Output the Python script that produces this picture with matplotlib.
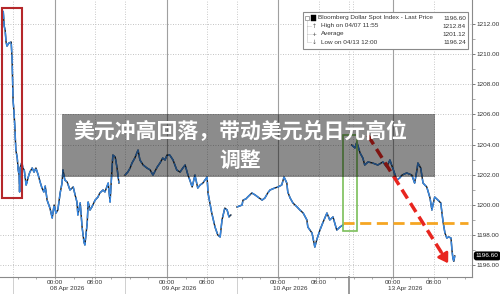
import numpy as np
import matplotlib.pyplot as plt
from matplotlib.patches import Rectangle

# x = trading hours counted from 08 Apr 2026 00:00 (weekend removed)
seg1_h = [-11.4, -11.1, -10.9, -10.7, -10.5, -10.3, -9.9, -9.4, -9.2, -9.1,
          -9.0, -8.9, -8.8, -8.6, -8.5, -8.4, -8.1, -7.9, -7.7, -7.6,
          -7.5, -7.3, -7.1, -6.9, -6.6, -6.2, -6.0, -5.8, -5.4, -4.9,
          -4.5, -4.1, -3.6, -3.2, -2.8, -2.4, -2.1, -1.7, -1.1, -0.6,
          -0.2, 0.2, 0.6, 1.1, 1.5, 1.7, 2.1, 2.6, 3.2, 3.9,
          4.3, 4.7, 4.9, 5.4, 5.8, 6.2, 6.4, 6.9, 7.1, 7.5,
          7.9, 8.6, 9.2, 9.6, 10.3, 10.7, 11.1, 11.4, 11.8, 12.2,
          12.4, 12.9, 13.3, 13.7]
seg1_v = [1212.80, 1212.84, 1211.87, 1211.60, 1210.81, 1210.54, 1210.74, 1210.81, 1209.61, 1208.28,
          1206.95, 1206.56, 1206.16, 1205.09, 1204.30, 1203.63, 1203.10, 1202.31, 1201.97, 1200.85,
          1202.44, 1202.64, 1202.84, 1202.44, 1202.31, 1201.31, 1201.51, 1201.78, 1202.17, 1202.44,
          1202.17, 1202.44, 1201.97, 1201.51, 1201.11, 1200.85, 1201.24, 1200.31, 1199.78, 1199.12,
          1199.98, 1199.45, 1199.65, 1200.78, 1201.44, 1202.31, 1201.64, 1201.51, 1200.98, 1201.18,
          1200.65, 1200.18, 1199.32, 1200.12, 1198.52, 1197.53, 1197.33, 1198.79, 1200.18, 1199.65,
          1199.85, 1200.31, 1200.51, 1200.78, 1200.98, 1200.85, 1201.18, 1201.44, 1200.18, 1202.31,
          1203.30, 1203.17, 1202.44, 1201.44]

seg2_h = [15.0, 15.6, 16.1, 16.5, 17.1, 17.8, 18.2, 18.9, 19.7, 20.4,
          21.0, 21.9, 22.5, 23.1, 23.6, 24.0, 24.6, 25.3, 26.1, 26.8,
          27.4, 27.9, 28.5, 28.9, 29.4, 30.0, 30.6, 31.1, 31.7, 32.6,
          32.8, 33.6, 34.3, 34.9, 35.4, 35.8, 36.4, 36.9, 37.3, 37.7]
seg2_v = [1201.97, 1202.17, 1202.44, 1202.77, 1203.10, 1203.63, 1202.97, 1202.64, 1202.44, 1202.31,
          1201.97, 1202.50, 1202.77, 1203.10, 1202.97, 1203.30, 1203.30, 1202.97, 1202.31, 1202.17,
          1202.44, 1202.64, 1201.97, 1201.64, 1201.18, 1201.97, 1201.11, 1201.31, 1201.44, 1201.84,
          1200.78, 1199.45, 1198.52, 1197.99, 1197.86, 1198.99, 1199.78, 1199.65, 1199.19, 1199.32]

seg3_h = [39.0, 39.6, 40.1, 40.3, 40.9, 41.3, 42.2, 42.9, 43.5, 44.4,
          45.0, 45.6, 46.1, 47.1, 47.8, 48.6, 49.1, 49.7, 49.9, 50.4,
          51.0, 51.9, 52.5, 53.2, 54.0, 54.2, 55.1, 55.7, 56.1, 56.8,
          57.4, 58.3, 58.9, 59.6, 60.4, 61.1, 61.7]
seg3_v = [1199.85, 1199.92, 1199.98, 1200.31, 1200.38, 1200.51, 1200.78, 1200.65, 1200.51, 1200.31,
          1200.45, 1200.78, 1200.98, 1201.11, 1201.18, 1201.31, 1201.84, 1201.44, 1200.85, 1200.45,
          1200.12, 1199.85, 1199.65, 1199.45, 1198.99, 1198.52, 1198.12, 1197.19, 1197.66, 1198.32,
          1198.79, 1199.45, 1198.99, 1199.19, 1198.32, 1198.52, 1198.65]

seg4_h = [63.6, 64.3, 64.7, 65.4, 66.0, 66.4, 67.1, 68.1, 69.2, 70.3,
          71.1, 71.8, 72.4, 73.3, 73.9, 74.4, 75.4, 76.5, 77.1, 77.6,
          77.8, 78.4, 78.9, 79.7, 80.4, 80.8, 81.4, 82.1, 82.7, 83.2,
          83.6, 84.0, 84.4, 84.9, 85.1, 85.3, 85.5, 85.7]
seg4_v = [1203.97, 1203.77, 1204.17, 1203.44, 1203.10, 1202.64, 1202.84, 1202.77, 1202.64, 1202.84,
          1202.51, 1202.97, 1202.44, 1201.64, 1201.78, 1201.97, 1202.11, 1201.97, 1201.44, 1202.31,
          1202.77, 1202.44, 1201.44, 1201.18, 1200.45, 1199.65, 1200.51, 1200.31, 1200.12, 1198.85,
          1198.12, 1197.79, 1197.86, 1197.79, 1196.99, 1196.46, 1196.24, 1196.60]

day_lines = [0.0, 24.0, 47.8, 72.4]
day_labels = ["08 Apr 2026", "09 Apr 2026", "10 Apr 2026", "13 Apr 2026"]
eight_lines = [8.6, 32.6, 56.6, 81.2]
session_lines = [-9.0, 15.0, 39.0, 63.0]
reopen_line = 63.9

legend_rows = [("Bloomberg Dollar Spot Index - Last Price", "1196.60"),
               ("High on 04/07 11:55", "1212.84"),
               ("Average", "1201.12"),
               ("Low on 04/13 12:00", "1196.24")]
last_price = 1196.60
support_level = 1198.8
title_lines = ["美元冲高回落，带动美元兑日元高位", "调整"]

small = dict(family="Liberation Sans", fontsize=4.6, color="#333333")

fig = plt.figure(figsize=(5.0, 2.94), dpi=100)
ax = fig.add_axes([0.0, 1 - 277 / 294, 472 / 500, 277 / 294])
ax.set_xlim(-11.8, 89.4)
ax.set_ylim(1195.2, 1213.6)

for s in ["left", "top"]:
    ax.spines[s].set_visible(False)
for s in ["right", "bottom"]:
    ax.spines[s].set_color("#8a8a8a")
    ax.spines[s].set_linewidth(0.8)

# grid
for yv in np.arange(1196, 1213, 2):
    ax.axhline(yv, color="#b0b0b0", lw=0.6, ls=(0, (1, 2)), zorder=0)
for xv in day_lines:
    ax.axvline(xv, color="#a0a0a0", lw=0.8, zorder=0)
for xv in eight_lines + session_lines + [reopen_line]:
    ax.axvline(xv, color="#b8b8b8", lw=0.6, ls=(0, (1, 2)), zorder=0)
for xv in session_lines:
    c, w = ("#9a9a9a", 1.4) if xv == session_lines[-1] else ("#cfcfcf", 0.7)
    ax.axvline(xv, ymin=-0.07, ymax=0, color=c, lw=w, clip_on=False)

# y axis on right
ax.yaxis.tick_right()
ax.set_yticks(np.arange(1196, 1213, 2))
ax.set_yticklabels(["%.2f" % t for t in np.arange(1196, 1213, 2)])
ax.set_yticks(np.arange(1197, 1213, 2), minor=True)
ax.tick_params(axis="y", which="major", length=2.5, width=0.6, color="#666666", pad=0.8,
               labelsize=4.6, labelcolor="#333333")
ax.tick_params(axis="y", which="minor", length=1.8, width=0.5, color="#888888")
for lab in ax.get_yticklabels():
    lab.set_family("Liberation Sans")

# x axis
ax.set_xticks(sorted(day_lines + eight_lines))
ax.set_xticklabels(["00:00" if t in day_lines else "08:00" for t in sorted(day_lines + eight_lines)])
ax.set_xticks(np.arange(-8, 89, 4), minor=True)
ax.tick_params(axis="x", which="major", length=1.5, width=0.5, color="#888888", pad=0.3,
               labelsize=4.6, labelcolor="#333333")
ax.tick_params(axis="x", which="minor", length=1.5, width=0.5, color="#888888")
for lab in ax.get_xticklabels():
    lab.set_family("Liberation Sans")
for xv, lab in zip(day_lines, day_labels):
    ax.text(xv - 1.0, -0.031, lab, transform=ax.get_xaxis_transform(), ha="left", va="top", **small)

# price line: blue with dark flecks
for hh, vv in [(seg1_h, seg1_v), (seg2_h, seg2_v), (seg3_h, seg3_v), (seg4_h, seg4_v)]:
    ax.plot(hh, vv, color="#1a1a1a", lw=1.0, zorder=3)
    ax.plot(hh, vv, color="#3a88e0", lw=1.1, dashes=(6, 1.2), zorder=4)

# annotations
ax.add_patch(Rectangle((-11.4, 1200.45), 4.3, 12.6, fill=False, ec="#b5272a", lw=1.5, zorder=6))
ax.add_patch(Rectangle((61.7, 1198.25), 3.0, 6.4, fill=False, ec="#7cbf5a", lw=1.2, zorder=6))
ax.plot([61.7, 88.5], [support_level, support_level], color="#f5a623", lw=2.0,
        dashes=(4, 2), zorder=5)
ax.plot([67.1, 83.3], [1204.6, 1196.6], color="#e8251f", lw=2.5, dashes=(3, 1.6), zorder=7)
ax.annotate("", xy=(84.6, 1195.95), xytext=(82.6, 1196.95),
            arrowprops=dict(arrowstyle="-|>,head_length=0.55,head_width=0.35",
                            color="#e8251f", lw=2.0), zorder=7)

# last price tag
ax.text(1.008, last_price, "1196.60", transform=ax.get_yaxis_transform(), ha="left",
        va="center", family="Liberation Sans", fontsize=4.6, color="white", zorder=8,
        bbox=dict(boxstyle="round,pad=0.2,rounding_size=0.3", fc="black", ec="black"),
        clip_on=False)

# legend box
lx0, lx1 = 303 / 472, 468 / 472
ly0, ly1 = 1 - 49 / 277, 1 - 12 / 277
ax.add_patch(Rectangle((lx0, ly0), lx1 - lx0, ly1 - ly0, transform=ax.transAxes,
                       fc="white", ec="#8a8a8a", lw=0.8, zorder=9))
row_y = [1 - 18 / 277, 1 - 26 / 277, 1 - 34 / 277, 1 - 42 / 277]
for i, ((name, val), yy) in enumerate(zip(legend_rows, row_y)):
    xoff = 318 / 472 if i == 0 else 321 / 472
    ax.text(xoff, yy, name, transform=ax.transAxes, ha="left", va="center", zorder=10, **small)
    ax.text(466 / 472, yy, val, transform=ax.transAxes, ha="right", va="center", zorder=10, **small)
ax.add_patch(Rectangle((311 / 472, row_y[0] - 0.012), 5 / 472, 0.024, transform=ax.transAxes,
                       fc="black", ec="black", lw=0.3, zorder=10))
ax.add_patch(Rectangle((305 / 472, row_y[0] - 0.008), 4 / 472, 0.016, transform=ax.transAxes,
                       fc="white", ec="#666666", lw=0.4, zorder=10))
ax.plot([307 / 472, 307 / 472], [row_y[0] - 0.01, row_y[3]], transform=ax.transAxes,
        color="#888888", lw=0.4, ls=(0, (1, 1)), zorder=10)
for i, yy in enumerate(row_y[1:]):
    ax.plot([307 / 472, 311 / 472], [yy, yy], transform=ax.transAxes,
            color="#888888", lw=0.4, ls=(0, (1, 1)), zorder=10)
    ax.text(314 / 472, yy, ["↑", "+", "↓"][i], transform=ax.transAxes, ha="center",
            va="center", fontsize=4.2, color="#555555", zorder=10)

# title banner
fig.patches.append(Rectangle((62 / 500, 1 - 177 / 294), 373 / 500, 63 / 294,
                             transform=fig.transFigure, fc="black", alpha=0.45, ec="none",
                             zorder=20))
for line, yy in zip(title_lines, [1 - 132 / 294, 1 - 160 / 294]):
    fig.text(240 / 500, yy, line, ha="center", va="center", color="white",
             family=["Noto Sans CJK SC", "DejaVu Sans"], fontweight="bold", fontsize=15,
             zorder=21)

fig.savefig("out.png", dpi=100)
